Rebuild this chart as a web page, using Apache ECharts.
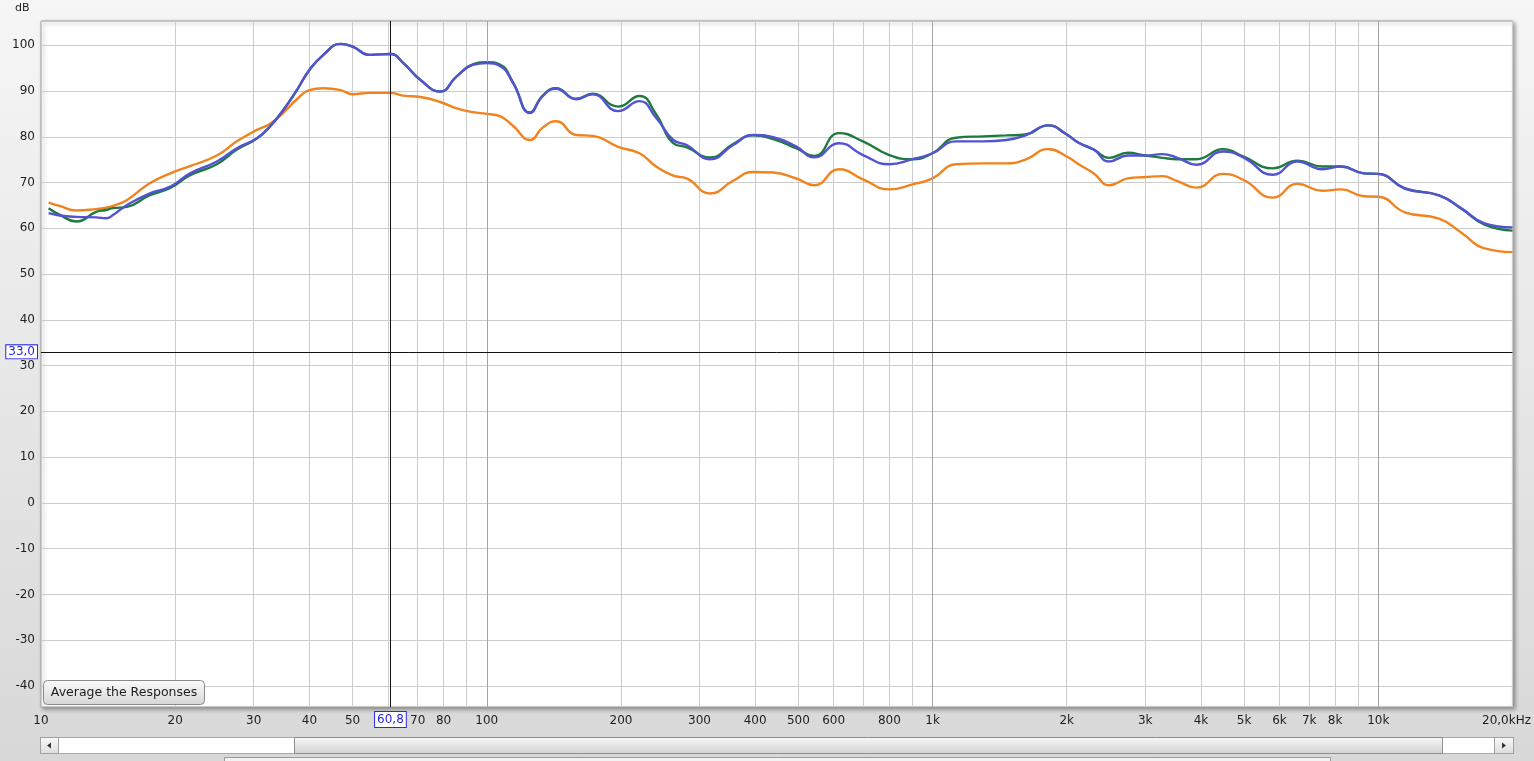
<!DOCTYPE html>
<html>
<head>
<meta charset="utf-8">
<script src="https://cdn.jsdelivr.net/npm/echarts@6/dist/echarts.min.js"></script>
<style>
html,body{margin:0;padding:0;overflow:hidden;}
#chart{width:1534px;height:761px;}
</style>
</head>
<body>
<div id="chart"></div>
<script>
// ---- data ----
const freqs = [10.4, 11, 12, 13.3, 14, 14.5, 15.6, 17.5, 19.5, 21.6, 24.8, 27.5, 30.5, 32.6, 35, 37.5, 40, 43, 47, 50, 54.7, 60.7, 65, 71, 78.6, 85.6, 93, 100, 107, 114.5, 125, 133.5, 143, 158.7, 172.7, 197, 220, 240, 262, 281, 317, 357, 396, 439, 494, 543, 617, 698, 800, 901, 1000, 1128, 1300, 1465, 1616, 1817, 2000, 2126, 2300, 2488, 2743, 3000, 3275, 3542, 3907, 4483, 5000, 5797, 6585, 7482, 8251, 9284, 10000, 11468, 13679, 15389, 17313, 20000];

const greenDb = [64.4, 63.0, 61.5, 63.6, 64.0, 64.4, 64.7, 67.2, 68.8, 71.6, 74.0, 77.2, 79.6, 82.2, 85.9, 90.2, 94.6, 97.9, 100.3, 99.7, 97.9, 98.1, 96.1, 92.4, 89.9, 93.2, 95.8, 96.3, 95.8, 91.9, 85.3, 89.0, 90.6, 88.3, 89.4, 86.6, 88.9, 84.9, 78.6, 77.7, 75.5, 78.4, 80.3, 79.5, 77.5, 75.8, 80.8, 79.0, 76.0, 75.1, 76.4, 79.8, 80.1, 80.3, 80.5, 82.5, 80.5, 78.7, 77.2, 75.4, 76.5, 75.9, 75.4, 75.1, 75.1, 77.3, 75.6, 73.1, 74.8, 73.5, 73.5, 72.0, 71.9, 68.7, 67.2, 64.2, 60.8, 59.5];

const blueDb = [63.3, 62.8, 62.5, 62.4, 62.2, 62.9, 65.1, 67.6, 69.1, 72.0, 74.6, 77.5, 79.7, 82.2, 85.9, 90.2, 94.6, 97.9, 100.3, 99.7, 97.9, 98.1, 96.1, 92.4, 89.9, 93.2, 95.7, 96.1, 95.5, 91.8, 85.2, 88.9, 90.5, 88.2, 89.3, 85.6, 87.8, 84.1, 79.3, 78.2, 75.1, 78.2, 80.4, 79.9, 77.9, 75.5, 78.6, 76.0, 74.0, 75.1, 76.4, 79.0, 79.0, 79.3, 80.3, 82.5, 80.5, 78.7, 77.2, 74.6, 75.9, 75.9, 76.2, 75.4, 73.9, 76.8, 75.4, 71.7, 74.6, 72.9, 73.5, 72.0, 71.9, 68.7, 67.2, 64.3, 61.1, 60.2];

const orangeDb = [65.6, 64.9, 63.9, 64.2, 64.5, 64.9, 66.2, 69.8, 72.0, 73.6, 75.9, 79.0, 81.5, 82.8, 85.3, 88.2, 90.2, 90.6, 90.2, 89.3, 89.6, 89.6, 89.0, 88.7, 87.6, 86.2, 85.4, 85.0, 84.5, 82.4, 79.3, 82.0, 83.4, 80.4, 80.2, 77.8, 76.4, 73.5, 71.5, 70.9, 67.6, 70.4, 72.3, 72.2, 70.9, 69.4, 72.9, 70.7, 68.5, 69.6, 70.9, 74.0, 74.2, 74.2, 75.0, 77.3, 75.7, 74.0, 72.0, 69.4, 70.9, 71.2, 71.4, 70.3, 68.9, 71.9, 70.5, 66.7, 69.7, 68.2, 68.5, 67.0, 66.9, 63.5, 62.1, 59.0, 55.6, 54.8];

const xGridFreqs = [10, 20, 30, 40, 50, 60, 70, 80, 90, 100, 200, 300, 400, 500, 600, 700, 800, 900, 1000, 2000, 3000, 4000, 5000, 6000, 7000, 8000, 9000, 10000, 20000];
const xLabelFreqs = [10, 20, 30, 40, 50, 70, 80, 100, 200, 300, 400, 500, 600, 800, 1000, 2000, 3000, 4000, 5000, 6000, 7000, 8000, 10000, 20000];
const decadeFreqs = [100, 1000, 10000];
const yTicks = [-40, -30, -20, -10, 0, 10, 20, 30, 40, 50, 60, 70, 80, 90, 100];
const cursorFreq = 60.8;
const cursorDb = 33.0;

// ---- chart ----
const chart = echarts.init(document.getElementById('chart'), null, {renderer: 'canvas'});
const FONT = 'DejaVu Sans';
const pair = arr => freqs.map((f, i) => [f, arr[i]]);
const fmtFreq = v => {
  const f = Math.round(Math.pow(10, v));
  if (f >= 20000) return '{m|20,0kHz}';
  if (f >= 1000) return (f / 1000) + 'k';
  return String(f);
};

const grad = (a, b) => new echarts.graphic.LinearGradient(0, 0, 0, 1, [{offset: 0, color: a}, {offset: 1, color: b}]);

const option = {
  animation: false,
  backgroundColor: grad('#f6f6f6', '#d8d8d8'),
  textStyle: {fontFamily: FONT},
  grid: {
    left: 41, right: 20, top: 21, bottom: 54,
    show: true, backgroundColor: '#ffffff', borderColor: '#9c9c9c', borderWidth: 1,
    shadowColor: 'rgba(0,0,0,0.35)', shadowBlur: 4, shadowOffsetX: 2, shadowOffsetY: 2
  },
  xAxis: [
    {type: 'log', logBase: 10, min: 10, max: 20000, position: 'bottom', show: false},
    {
      type: 'value', position: 'bottom', min: 1, max: Math.log10(20000),
      axisLine: {show: false},
      axisTick: {show: false, customValues: xGridFreqs.map(f => Math.log10(f))},
      splitLine: {show: true, lineStyle: {color: '#cccccc', width: 1}},
      axisLabel: {
        customValues: xLabelFreqs.map(f => Math.log10(f)),
        formatter: fmtFreq, color: '#1e1e1e', fontSize: 12, fontFamily: FONT, margin: 8,
        hideOverlap: false, showMinLabel: true, showMaxLabel: true,
        rich: {m: {fontSize: 12, fontFamily: FONT, color: '#1e1e1e', padding: [0, 12, 0, 0]}}
      }
    }
  ],
  yAxis: {
    type: 'value', min: -44.6, max: 105.3,
    axisLine: {show: false},
    axisTick: {show: false, customValues: yTicks},
    splitLine: {show: true, lineStyle: {color: '#cccccc', width: 1}},
    axisLabel: {customValues: yTicks, color: '#1e1e1e', fontSize: 12, fontFamily: FONT, margin: 6}
  },
  series: [
    {
      type: 'line', xAxisIndex: 0, data: [], silent: true, z: 1,
      markLine: {
        symbol: 'none', silent: true, animation: false,
        data: [
          ...decadeFreqs.map(f => ({xAxis: f, lineStyle: {color: '#a4a4a4', width: 1, type: 'solid'}, label: {show: false}})),
          {
            xAxis: cursorFreq, lineStyle: {color: '#111', width: 1, type: 'solid'},
            label: {show: true, position: 'start', distance: 5, formatter: '60,8', color: '#2a2ae0',
              fontSize: 12, fontFamily: FONT, backgroundColor: '#fff', borderColor: '#2a2ae0', borderWidth: 1, padding: [2, 2, 1, 2]}
          },
          {
            yAxis: cursorDb, lineStyle: {color: '#111', width: 1, type: 'solid'},
            label: {show: true, position: 'start', distance: 4, formatter: '33,0', color: '#2a2ae0',
              fontSize: 12, fontFamily: FONT, backgroundColor: '#fff', borderColor: '#2a2ae0', borderWidth: 1, padding: [1, 2, 0, 2]}
          }
        ]
      }
    },
    {name: 'orange', type: 'line', xAxisIndex: 0, data: pair(orangeDb), smooth: 0.5, symbol: 'none',
      lineStyle: {color: '#f0831e', width: 2.4}, z: 3},
    {name: 'green', type: 'line', xAxisIndex: 0, data: pair(greenDb), smooth: 0.5, symbol: 'none',
      lineStyle: {color: '#1f7a3e', width: 2.4}, z: 4},
    {name: 'blue', type: 'line', xAxisIndex: 0, data: pair(blueDb), smooth: 0.5, symbol: 'none',
      lineStyle: {color: '#5252d2', width: 2.4}, z: 5}
  ],
  graphic: [
    {type: 'text', left: 15, top: 3, style: {text: 'dB', fill: '#222', font: '11px "DejaVu Sans"'}},
    // button
    {type: 'rect', shape: {x: 43.5, y: 680.5, width: 161, height: 24, r: 4},
      style: {fill: grad('#fbfbfb', '#d6d6d6'), stroke: '#8a8a8a', lineWidth: 1}, z: 100},
    {type: 'text', x: 124, y: 693, style: {text: 'Average the Responses', fill: '#1e1e1e', font: '12.5px "DejaVu Sans"', align: 'center', verticalAlign: 'middle'}, z: 101},
    // scrollbar
    {type: 'rect', shape: {x: 40.5, y: 737.5, width: 1473, height: 16}, style: {fill: '#ffffff', stroke: '#a8a8a8', lineWidth: 1}, z: 100},
    {type: 'rect', shape: {x: 40.5, y: 737.5, width: 18, height: 16}, style: {fill: grad('#fafafa', '#dcdcdc'), stroke: '#a0a0a0', lineWidth: 1}, z: 101},
    {type: 'polygon', shape: {points: [[47, 745.5], [51, 742.5], [51, 748.5]]}, style: {fill: '#333'}, z: 102},
    {type: 'rect', shape: {x: 294.5, y: 737.5, width: 1148, height: 16}, style: {fill: grad('#f7f7f7', '#d2d2d2'), stroke: '#8e8e8e', lineWidth: 1}, z: 101},
    {type: 'rect', shape: {x: 1494.5, y: 737.5, width: 19, height: 16}, style: {fill: grad('#fafafa', '#dcdcdc'), stroke: '#a0a0a0', lineWidth: 1}, z: 101},
    {type: 'polygon', shape: {points: [[1506, 745.5], [1502, 742.5], [1502, 748.5]]}, style: {fill: '#333'}, z: 102},
    // bottom panel edge
    {type: 'rect', shape: {x: 224.5, y: 757.5, width: 1106, height: 10}, style: {fill: '#f2f2f2', stroke: '#9a9a9a', lineWidth: 1}, z: 100}
  ]
};
chart.setOption(option);
</script>
</body>
</html>
